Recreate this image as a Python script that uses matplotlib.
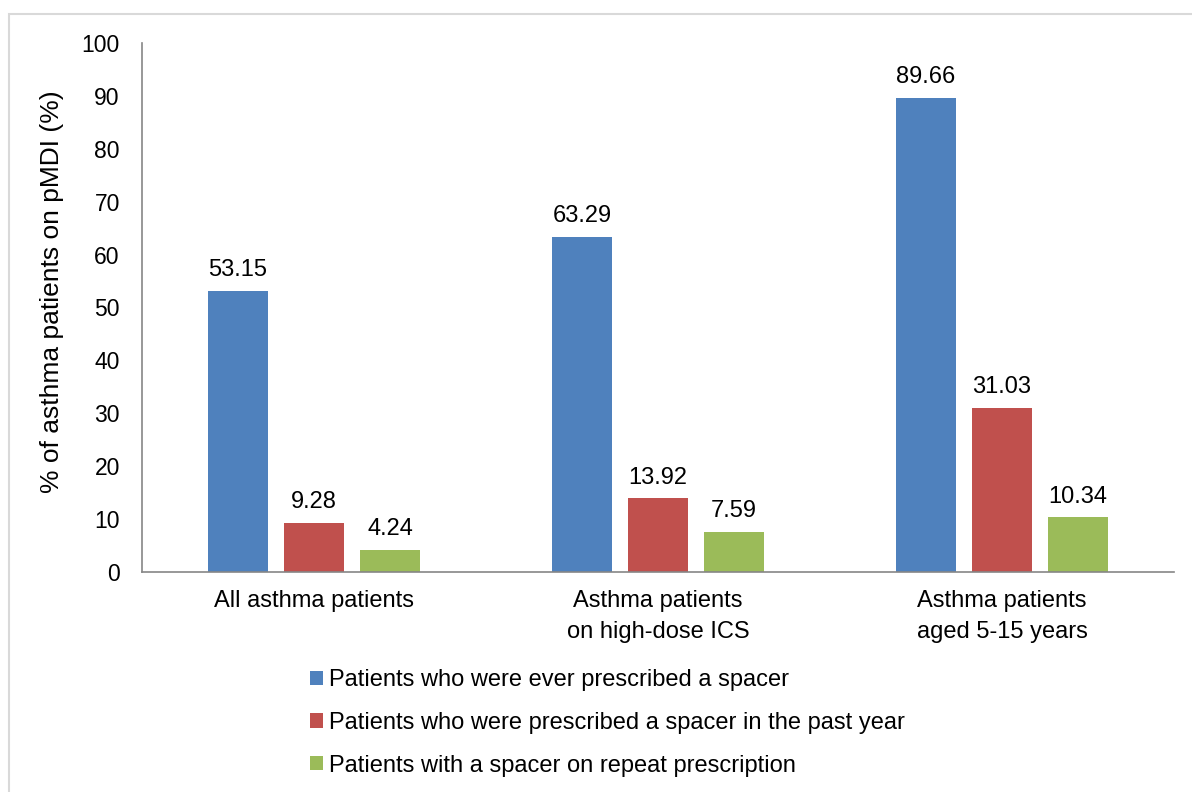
import numpy as np
import matplotlib.pyplot as plt
from matplotlib.patches import Rectangle

plt.rcParams['font.family'] = ['Liberation Sans', 'DejaVu Sans']

categories = ['All asthma patients', 'Asthma patients\non high-dose ICS', 'Asthma patients\naged 5-15 years']
series_names = ['Patients who were ever prescribed a spacer',
                'Patients who were prescribed a spacer in the past year',
                'Patients with a spacer on repeat prescription']
ever_prescribed = [53.15, 63.29, 89.66]
past_year = [9.28, 13.92, 31.03]
repeat_rx = [4.24, 7.59, 10.34]
colors = ['#4F81BD', '#C0504D', '#9BBB59']

fig = plt.figure(figsize=(11.92, 7.92), dpi=100)
ax = fig.add_axes([142/1192, 1 - 572/792, 1032/1192, 529/792])

x = np.arange(len(categories))
width = 0.174
offset = 0.221
bars = []
for i, (vals, name) in enumerate(zip([ever_prescribed, past_year, repeat_rx], series_names)):
    b = ax.bar(x + (i - 1) * offset, vals, width, color=colors[i], label=name)
    ax.bar_label(b, labels=[f'{v:.2f}' for v in vals], padding=7, fontsize=17)
    bars.append(b)

ax.set_xlim(-0.5, 2.5)
ax.set_ylim(0, 100)
ax.set_yticks(range(0, 101, 10))
ax.set_xticks(x)
ax.set_xticklabels(categories, fontsize=17, linespacing=1.55)
ax.tick_params(axis='y', length=0, pad=16, labelsize=16.5)
ax.tick_params(axis='x', length=0, pad=13)
for s in ['top', 'right']:
    ax.spines[s].set_visible(False)
for s in ['left', 'bottom']:
    ax.spines[s].set_color('#868686')
    ax.spines[s].set_linewidth(1.2)

fig.text(52/1192, 1 - 292/792, '% of asthma patients on pMDI (%)', rotation=90,
         ha='center', va='center', fontsize=19)

fig.legend(handles=bars, loc='upper left', bbox_to_anchor=(310/1192, 1 - 669/792),
           frameon=False, fontsize=17, handlelength=0.55, handleheight=0.55,
           handletextpad=0.25, labelspacing=0.88, borderpad=0, borderaxespad=0)

fig.patches.append(Rectangle((9/1192, -0.1), 1.2, 1 - 14/792 + 0.1, transform=fig.transFigure,
                             fill=False, edgecolor='#d9d9d9', linewidth=1.5))

fig.savefig('out.png', dpi=100)
